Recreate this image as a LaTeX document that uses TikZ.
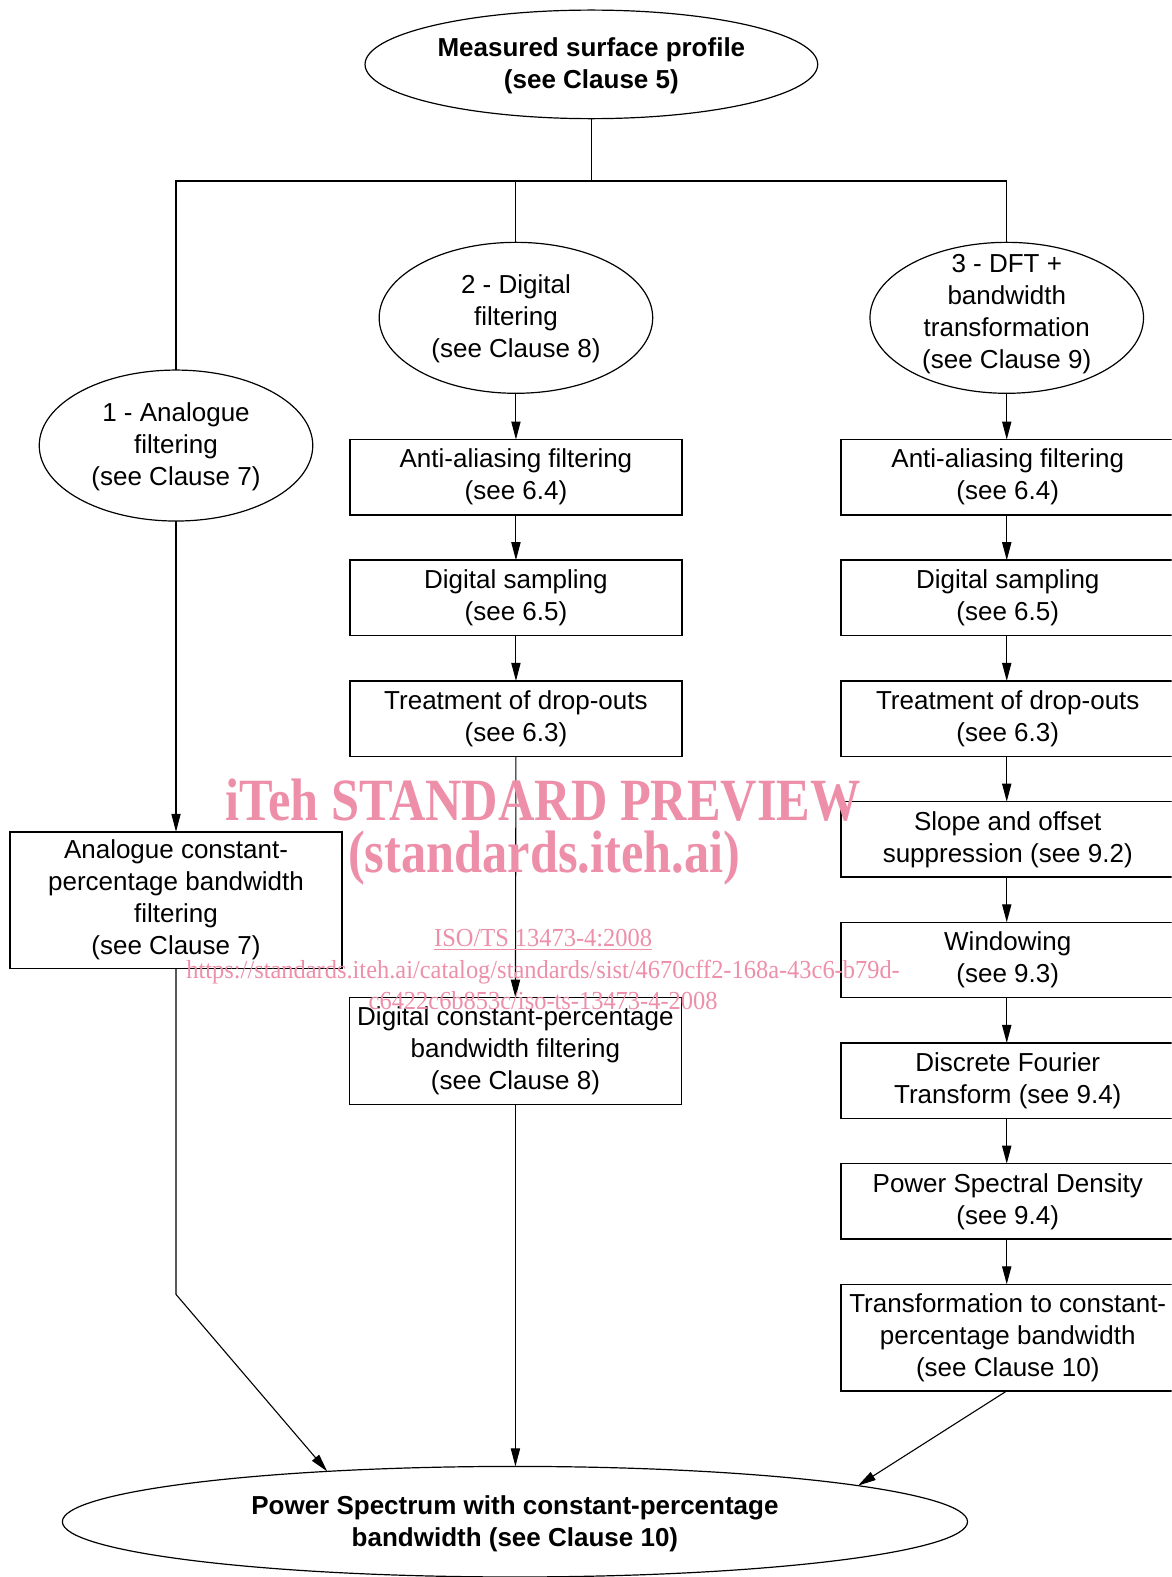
\documentclass[tikz,border=0pt]{standalone}
\usepackage{fontspec}
\setmainfont{Liberation Sans}
\newfontfamily\wmbig[FakeStretch=0.84]{Liberation Serif}
\newfontfamily\wmsmall[FakeStretch=0.94]{Liberation Serif}
\usetikzlibrary{shapes.geometric,arrows.meta}
\definecolor{wmpink}{RGB}{238,143,170}
\begin{document}
\begin{tikzpicture}[x=0.503pt,y=-0.503pt,
  txt/.style={font=\fontsize{13}{16}\selectfont, align=center, inner sep=0pt},
  btxt/.style={font=\fontsize{13}{16}\selectfont\bfseries, align=center, inner sep=0pt},
  ell/.style={draw, line width=0.6pt, ellipse, inner sep=0pt, outer sep=0pt},
  box/.style={draw, line width=0.75pt, rectangle, inner sep=1pt, outer sep=0pt,
    minimum width=166pt, minimum height=37.7pt, font=\fontsize{13}{16}\selectfont, align=center},
  rbox/.style={box, minimum width=167pt},
  conn/.style={line width=0.55pt},
  arr/.style={conn, -{Triangle[length=9pt,width=4.6pt]}},
  wm/.style={text=wmpink, inner sep=0pt, anchor=base}
]
\clip (0,0) rectangle (1165,1568);
\useasboundingbox (0,0) rectangle (1165,1568);

% ellipses
\node[ell, minimum width=226.4pt, minimum height=54.3pt] (top) at (588,64) {};
\node[btxt] (topt) at (588,65) {Measured surface profile\\(see Clause 5)};
\node[ell, minimum width=136.8pt, minimum height=75.5pt] (e1) at (175,443) {};
\node[txt] (e1t) at (175,444) {1 - Analogue\\filtering\\(see Clause 7)};
\node[ell, minimum width=136.8pt, minimum height=75.5pt] (e2) at (513,316) {};
\node[txt] (e2t) at (513,317) {2 - Digital\\filtering\\(see Clause 8)};
\node[ell, minimum width=136.8pt, minimum height=75.5pt] (e3) at (1001,316) {};
\node[txt] (e3t) at (1001,312) {3 - DFT +\\bandwidth\\transformation\\(see Clause 9)};
\node[ell, minimum width=452.7pt, minimum height=55.3pt] (bot) at (512,1513) {};
\node[btxt] (bott) at (512,1515) {Power Spectrum with constant-percentage\\bandwidth (see Clause 10)};

% middle column
\node[box] (m1) at (513,474.5) {Anti-aliasing filtering\\(see 6.4)};
\node[box] (m2) at (513,594.5) {Digital sampling\\(see 6.5)};
\node[box] (m3) at (513,714.5) {Treatment of drop-outs\\(see 6.3)};
\node[box, minimum height=53.3pt] (m4) at (512.5,1045) {Digital constant-percentage\\bandwidth filtering\\(see Clause 8)};

% left column
\node[box, minimum height=68.4pt] (lb) at (175,895) {Analogue constant-\\percentage bandwidth\\filtering\\(see Clause 7)};

% right column
\node[rbox] (r1) at (1002,474.5) {Anti-aliasing filtering\\(see 6.4)};
\node[rbox] (r2) at (1002,594.5) {Digital sampling\\(see 6.5)};
\node[rbox] (r3) at (1002,714.5) {Treatment of drop-outs\\(see 6.3)};
\node[rbox] (r4) at (1002,834.5) {Slope and offset\\suppression (see 9.2)};
\node[rbox] (r5) at (1002,954.5) {Windowing\\(see 9.3)};
\node[rbox] (r6) at (1002,1074.5) {Discrete Fourier\\Transform (see 9.4)};
\node[rbox] (r7) at (1002,1194.5) {Power Spectral Density\\(see 9.4)};
\node[rbox, minimum height=53.3pt] (r8) at (1002,1330) {Transformation to constant-\\percentage bandwidth\\(see Clause 10)};

% top distribution
\coordinate (j) at (588,180);
\draw[conn] (top.south) -- (j);
\draw[conn] (e1.north) -- (e1.north |- j) -- (e3.north |- j) -- (e3.north);
\draw[conn] (e2.north) -- (e2.north |- j);

% left branch
\draw[arr] (e1.south) -- (lb.north);
\coordinate (k1) at (175,1287);
\draw[arr] (lb.south) -- (k1) -- (bot.165);

% middle branch
\draw[arr] (e2.south) -- (m1.north);
\draw[arr] (m1.south) -- (m2.north);
\draw[arr] (m2.south) -- (m3.north);
\draw[arr] (m3.south) -- (m4.north);
\draw[arr] (m4.south) -- (m4.south |- bot.north);

% right branch
\draw[arr] (e3.south) -- (e3.south |- r1.north);
\draw[arr] (e3.south |- r1.south) -- (e3.south |- r2.north);
\draw[arr] (e3.south |- r2.south) -- (e3.south |- r3.north);
\draw[arr] (e3.south |- r3.south) -- (e3.south |- r4.north);
\draw[arr] (e3.south |- r4.south) -- (e3.south |- r5.north);
\draw[arr] (e3.south |- r5.south) -- (e3.south |- r6.north);
\draw[arr] (e3.south |- r6.south) -- (e3.south |- r7.north);
\draw[arr] (e3.south |- r7.south) -- (e3.south |- r8.north);
\draw[arr] (e3.south |- r8.south) -- (bot.6.5);

% watermark
\node[wm, font=\wmbig\bfseries\fontsize{30}{30}\selectfont] (w1) at (540,816) {iTeh STANDARD PREVIEW};
\node[wm, font=\wmbig\bfseries\fontsize{30}{30}\selectfont] (w2) at (541,868) {(standards.iteh.ai)};
\node[wm, font=\wmsmall\fontsize{13}{13}\selectfont] (w3) at (540,941) {\underline{ISO/TS 13473-4:2008}};
\node[wm, font=\wmsmall\fontsize{13}{13}\selectfont] (w4) at (540,973) {https://standards.iteh.ai/catalog/standards/sist/4670cff2-168a-43c6-b79d-};
\node[wm, font=\wmsmall\fontsize{13}{13}\selectfont] (w5) at (540,1004) {c6422c6b853c/iso-ts-13473-4-2008};
\end{tikzpicture}
\end{document}
